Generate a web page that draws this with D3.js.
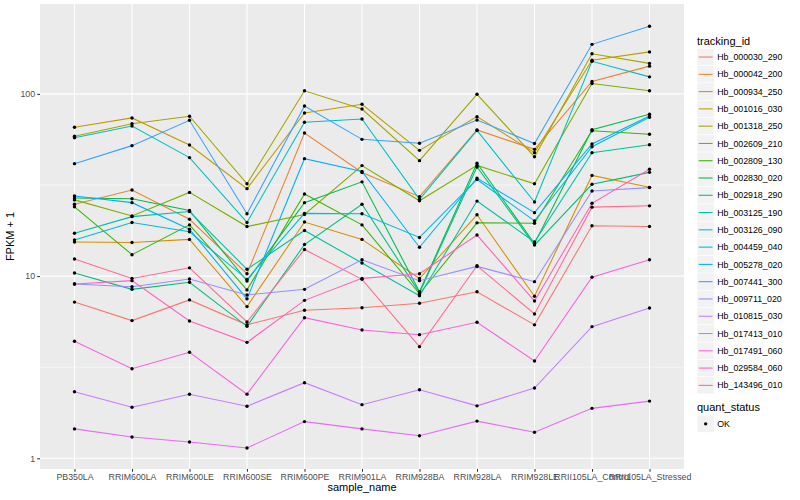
<!DOCTYPE html>
<html><head><meta charset="utf-8">
<script src="https://cdn.jsdelivr.net/npm/d3@7"></script>
<style>
body{margin:0;background:#fff}
svg{display:block}
text{font-family:"Liberation Sans",Arial,Helvetica,sans-serif}
</style>
</head><body>
<svg id="c" width="800" height="500"></svg>
<script>
// ---- data ----
const samples = ["PB350LA","RRIM600LA","RRIM600LE","RRIM600SE","RRIM600PE","RRIM901LA","RRIM928BA","RRIM928LA","RRIM928LE","RRII105LA_Control","RRII105LA_Stressed"];
const trackingIds = ["Hb_000030_290","Hb_000042_200","Hb_000934_250","Hb_001016_030","Hb_001318_250","Hb_002609_210","Hb_002809_130","Hb_002830_020","Hb_002918_290","Hb_003125_190","Hb_003126_090","Hb_004459_040","Hb_005278_020","Hb_007441_300","Hb_009711_020","Hb_010815_030","Hb_017413_010","Hb_017491_060","Hb_029584_060","Hb_143496_010"];
const seriesColors = ["#F8766D","#EA8331","#D89000","#C09B00","#A3A500","#7CAE00","#39B600","#00BB4E","#00BF7D","#00C1A3","#00BFC4","#00BAE0","#00B0F6","#35A2FF","#9590FF","#C77CFF","#E76BF3","#FA62DB","#FF62BC","#FF6C91"];

// FPKM + 1 per sample, in sample order
const hb000030_290 = [7.2, 5.7, 7.4, 5.4, 6.5, 6.7, 7.1, 8.2, 5.4, 18.9, 18.7];
const hb000042_200 = [24.8, 29.7, 20.5, 10.3, 61, 37, 27.3, 63.4, 49.6, 117, 142];
const hb000934_250 = [15.4, 15.3, 15.9, 6.8, 19.8, 15.9, 9.7, 21.7, 7.75, 35.7, 30.7];
const hb001016_030 = [65.6, 73.8, 52.4, 30.2, 78.6, 87.7, 49, 75, 47.6, 153, 170];
const hb001318_250 = [58.5, 68.6, 75.4, 32.1, 104, 82.6, 43, 99.5, 45.2, 166, 147];
const hb002609_210 = [26.2, 21.4, 28.8, 18.7, 21.8, 40.4, 25.9, 40.5, 32.1, 114, 104];
const hb002809_130 = [24, 13.1, 19.1, 8.4, 28.2, 19.1, 8.0, 19.6, 19.5, 62.8, 60];
const hb002830_020 = [26.8, 26.6, 22.9, 9.4, 25.3, 32.9, 8.2, 41.6, 15.1, 63.6, 77.3];
const hb002918_290 = [10.4, 8.46, 9.25, 5.3, 14.9, 24.8, 8.1, 39.7, 14.8, 31.9, 37.1];
const hb003125_190 = [17.2, 21.2, 22.6, 10.9, 17.8, 11.8, 7.8, 25.8, 15.4, 47.6, 52.6];
const hb003126_090 = [57.5, 66.6, 44.7, 19.7, 69.9, 72.8, 26.4, 63, 25.5, 151, 124];
const hb004459_040 = [15.8, 19.7, 17.5, 9.6, 22.1, 22, 16.3, 33.9, 20.1, 51.3, 74.4];
const hb005278_020 = [27.5, 25.3, 18.1, 7.5, 44.1, 37.5, 14.4, 34.5, 22.3, 53.1, 75.6];
const hb007441_300 = [41.4, 52, 71.6, 22, 85.8, 56.3, 53.6, 71.9, 53.4, 187, 235];
const hb009711_020 = [9.05, 8.74, 9.64, 7.88, 8.46, 12.3, 9.44, 11.3, 9.32, 29.3, 30.6];
const hb010815_030 = [2.32, 1.905, 2.245, 1.93, 2.6, 1.97, 2.38, 1.94, 2.43, 5.28, 6.68];
const hb017413_010 = [1.45, 1.31, 1.23, 1.14, 1.59, 1.45, 1.33, 1.6, 1.39, 1.88, 2.06];
const hb017491_060 = [4.39, 3.1, 3.82, 2.25, 5.91, 5.06, 4.77, 5.58, 3.42, 9.85, 12.3];
const hb029584_060 = [9.05, 9.44, 5.67, 4.33, 7.36, 9.72, 10.3, 16.8, 7.3, 25.1, 38.6];
const hb143496_010 = [12.4, 9.7, 11.1, 5.6, 14.0, 9.6, 4.1, 11.4, 6.2, 23.9, 24.3];

const yTickValues = [1, 10, 100];
const yTickLabels = ["1", "10", "100"];
const statusLevels = ["OK"];

const seriesValues = [hb000030_290,hb000042_200,hb000934_250,hb001016_030,hb001318_250,hb002609_210,hb002809_130,hb002830_020,hb002918_290,hb003125_190,hb003126_090,hb004459_040,hb005278_020,hb007441_300,hb009711_020,hb010815_030,hb017413_010,hb017491_060,hb029584_060,hb143496_010];
const series = trackingIds.map((id, i) => ({id, color: seriesColors[i], values: seriesValues[i]}));

// ---- layout ----
const svg = d3.select("#c");
const P = {l: 40, r: 684, t: 4, b: 469};

const x = d3.scalePoint().domain(samples).range([P.l, P.r]).padding(0.6);
const y = d3.scaleLog().domain([0.8736, 311.4]).range([P.b, P.t]);

svg.append("rect").attr("x", P.l).attr("y", P.t).attr("width", P.r - P.l).attr("height", P.b - P.t).attr("fill", "#EBEBEB");

const grid = svg.append("g");
[Math.sqrt(10), Math.sqrt(1000)].forEach(v => {
  grid.append("line").attr("x1", P.l).attr("x2", P.r).attr("y1", y(v)).attr("y2", y(v))
    .attr("stroke", "#fff").attr("stroke-width", 0.55);
});
yTickValues.forEach(v => {
  grid.append("line").attr("x1", P.l).attr("x2", P.r).attr("y1", y(v)).attr("y2", y(v))
    .attr("stroke", "#fff").attr("stroke-width", 1.07);
});
samples.forEach(s => {
  grid.append("line").attr("x1", x(s)).attr("x2", x(s)).attr("y1", P.t).attr("y2", P.b)
    .attr("stroke", "#fff").attr("stroke-width", 1.07);
});

const line = d3.line().x((d, i) => x(samples[i])).y(d => y(d));
const gl = svg.append("g");
series.forEach(s => {
  gl.append("path").attr("d", line(s.values)).attr("fill", "none")
    .attr("stroke", s.color).attr("stroke-width", 1.07);
});
const gp = svg.append("g");
series.forEach(s => {
  s.values.forEach((v, i) => {
    gp.append("circle").attr("cx", x(samples[i])).attr("cy", y(v)).attr("r", 1.7).attr("fill", "#000");
  });
});

// axes
const yAxis = svg.append("g").attr("transform", `translate(${P.l},0)`)
  .call(d3.axisLeft(y).tickValues(yTickValues).tickFormat((d, i) => yTickLabels[i]).tickSize(2.75).tickPadding(2.2));
const xAxis = svg.append("g").attr("transform", `translate(0,${P.b})`)
  .call(d3.axisBottom(x).tickSize(2.75).tickPadding(2.2));
[yAxis, xAxis].forEach(a => {
  a.select(".domain").remove();
  a.selectAll(".tick line").attr("stroke", "#333333").attr("stroke-width", 1.07);
  a.selectAll(".tick text").attr("fill", "#4D4D4D").style("font-size", "8.8px")
    .style("font-family", '"Liberation Sans",Arial,sans-serif');
});

svg.append("text").attr("x", (P.l + P.r) / 2).attr("y", 491).attr("text-anchor", "middle")
  .style("font-size", "11px").attr("fill", "#000").text("sample_name");
svg.append("text").attr("transform", `translate(14,${(P.t + P.b) / 2}) rotate(-90)`).attr("text-anchor", "middle")
  .style("font-size", "11px").attr("fill", "#000").text("FPKM + 1");

// legend: tracking_id
const K = 17.28, LX = 697;
const lg = svg.append("g");
lg.append("text").attr("x", LX).attr("y", 44.5).style("font-size", "11px").attr("fill", "#000").text("tracking_id");
series.forEach((s, i) => {
  const top = 48.4 + i * K;
  lg.append("rect").attr("x", LX).attr("y", top).attr("width", K).attr("height", K)
    .attr("fill", "#F2F2F2").attr("stroke", "#fff").attr("stroke-width", 0.6);
  lg.append("line").attr("x1", LX + 1.7).attr("x2", LX + K - 1.7).attr("y1", top + K / 2).attr("y2", top + K / 2)
    .attr("stroke", s.color).attr("stroke-width", 1.07);
  lg.append("text").attr("x", LX + K + 3).attr("y", top + K / 2 + 3.1).style("font-size", "8.8px").attr("fill", "#000").text(s.id);
});

// legend: quant_status
lg.append("text").attr("x", LX).attr("y", 411).style("font-size", "11px").attr("fill", "#000").text("quant_status");
statusLevels.forEach((lvl, i) => {
  const top = 415.2 + i * K;
  lg.append("rect").attr("x", LX).attr("y", top).attr("width", K).attr("height", K)
    .attr("fill", "#F2F2F2").attr("stroke", "#fff").attr("stroke-width", 0.6);
  lg.append("circle").attr("cx", LX + K / 2).attr("cy", top + K / 2).attr("r", 1.7).attr("fill", "#000");
  lg.append("text").attr("x", LX + K + 3).attr("y", top + K / 2 + 3.1).style("font-size", "8.8px").attr("fill", "#000").text(lvl);
});
</script>
</body></html>
